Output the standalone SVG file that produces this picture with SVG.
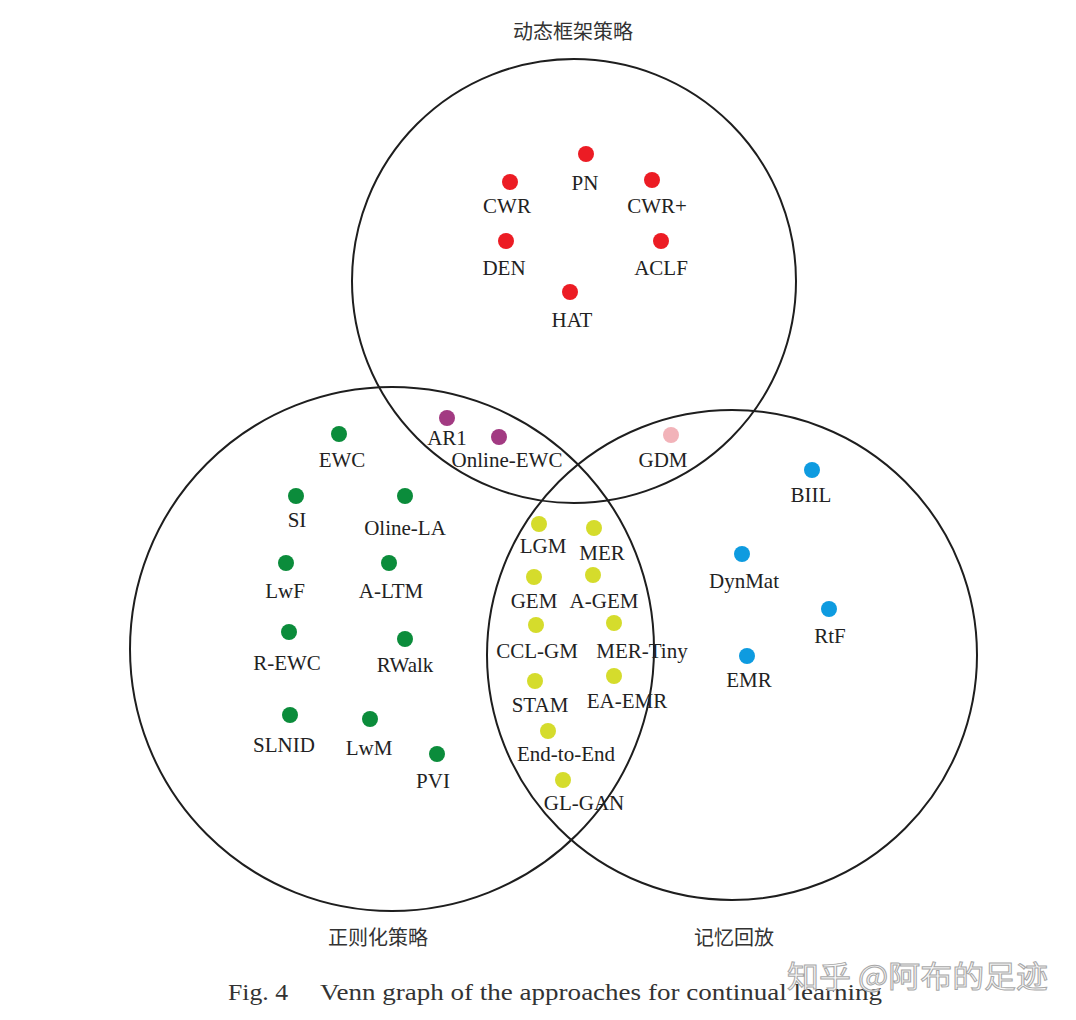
<svg xmlns="http://www.w3.org/2000/svg" width="1076" height="1020" viewBox="0 0 1076 1020">
<style>
.c{fill:none;stroke:#1e1e1e;stroke-width:2}
.t{font-family:"Liberation Serif","Times New Roman",serif;font-size:21px;fill:#222;text-anchor:middle}
.z{font-family:"Noto Sans CJK SC","Noto Sans CJK JP",sans-serif;font-size:20px;fill:#333;text-anchor:middle}
.r{fill:#ec1c24}.g{fill:#0b8c3b}.p{fill:#a23a82}.k{fill:#f2b3b9}.y{fill:#d5dc2c}.b{fill:#0e9be0}
</style>
<rect width="1076" height="1020" fill="#fff"/>
<g id="sets">
<circle id="set-dynamic" class="c" cx="574" cy="281" r="222"/>
<circle id="set-regularization" class="c" cx="392" cy="649" r="262"/>
<circle id="set-replay" class="c" cx="732" cy="655" r="245"/>
</g>
<g id="connectors"></g>
<g id="titles">
<text class="z" x="573" y="39">动态框架策略</text>
<text class="z" x="378" y="945">正则化策略</text>
<text class="z" x="734" y="945">记忆回放</text>
</g>
<g id="PN"><circle class="r" cx="586" cy="154" r="8"/><text class="t" x="585" y="190">PN</text></g>
<g id="CWR"><circle class="r" cx="510" cy="182" r="8"/><text class="t" x="507" y="213">CWR</text></g>
<g id="CWRplus"><circle class="r" cx="652" cy="180" r="8"/><text class="t" x="657" y="213">CWR+</text></g>
<g id="DEN"><circle class="r" cx="506" cy="241" r="8"/><text class="t" x="504" y="275">DEN</text></g>
<g id="ACLF"><circle class="r" cx="661" cy="241" r="8"/><text class="t" x="661" y="275">ACLF</text></g>
<g id="HAT"><circle class="r" cx="570" cy="292" r="8"/><text class="t" x="572" y="327">HAT</text></g>
<g id="AR1"><circle class="p" cx="447" cy="418" r="8"/><text class="t" x="447" y="445">AR1</text></g>
<g id="Online-EWC"><circle class="p" cx="499" cy="437" r="8"/><text class="t" x="507" y="467">Online-EWC</text></g>
<g id="GDM"><circle class="k" cx="671" cy="435" r="8"/><text class="t" x="663" y="467">GDM</text></g>
<g id="EWC"><circle class="g" cx="339" cy="434" r="8"/><text class="t" x="342" y="467">EWC</text></g>
<g id="SI"><circle class="g" cx="296" cy="496" r="8"/><text class="t" x="297" y="527">SI</text></g>
<g id="Oline-LA"><circle class="g" cx="405" cy="496" r="8"/><text class="t" x="405" y="535">Oline-LA</text></g>
<g id="LwF"><circle class="g" cx="286" cy="563" r="8"/><text class="t" x="285" y="598">LwF</text></g>
<g id="A-LTM"><circle class="g" cx="389" cy="563" r="8"/><text class="t" x="391" y="598">A-LTM</text></g>
<g id="R-EWC"><circle class="g" cx="289" cy="632" r="8"/><text class="t" x="287" y="670">R-EWC</text></g>
<g id="RWalk"><circle class="g" cx="405" cy="639" r="8"/><text class="t" x="405" y="672">RWalk</text></g>
<g id="SLNID"><circle class="g" cx="290" cy="715" r="8"/><text class="t" x="284" y="752">SLNID</text></g>
<g id="LwM"><circle class="g" cx="370" cy="719" r="8"/><text class="t" x="369" y="755">LwM</text></g>
<g id="PVI"><circle class="g" cx="437" cy="754" r="8"/><text class="t" x="433" y="788">PVI</text></g>
<g id="LGM"><circle class="y" cx="539" cy="524" r="8"/><text class="t" x="543" y="553">LGM</text></g>
<g id="MER"><circle class="y" cx="594" cy="528" r="8"/><text class="t" x="602" y="560">MER</text></g>
<g id="GEM"><circle class="y" cx="534" cy="577" r="8"/><text class="t" x="534" y="608">GEM</text></g>
<g id="A-GEM"><circle class="y" cx="593" cy="575" r="8"/><text class="t" x="604" y="608">A-GEM</text></g>
<g id="CCL-GM"><circle class="y" cx="536" cy="625" r="8"/><text class="t" x="537" y="658">CCL-GM</text></g>
<g id="MER-Tiny"><circle class="y" cx="614" cy="623" r="8"/><text class="t" x="642" y="658">MER-Tiny</text></g>
<g id="STAM"><circle class="y" cx="535" cy="681" r="8"/><text class="t" x="540" y="712">STAM</text></g>
<g id="EA-EMR"><circle class="y" cx="614" cy="676" r="8"/><text class="t" x="627" y="708">EA-EMR</text></g>
<g id="End-to-End"><circle class="y" cx="548" cy="731" r="8"/><text class="t" x="566" y="761">End-to-End</text></g>
<g id="GL-GAN"><circle class="y" cx="563" cy="780" r="8"/><text class="t" x="584" y="810">GL-GAN</text></g>
<g id="BIIL"><circle class="b" cx="812" cy="470" r="8"/><text class="t" x="811" y="502">BIIL</text></g>
<g id="DynMat"><circle class="b" cx="742" cy="554" r="8"/><text class="t" x="744" y="588">DynMat</text></g>
<g id="RtF"><circle class="b" cx="829" cy="609" r="8"/><text class="t" x="830" y="643">RtF</text></g>
<g id="EMR"><circle class="b" cx="747" cy="656" r="8"/><text class="t" x="749" y="687">EMR</text></g>
<g id="caption">
<text x="228" y="1000" style="font-family:'Liberation Serif','Times New Roman',serif;font-size:24px;fill:#333" textLength="60" lengthAdjust="spacingAndGlyphs">Fig. 4</text>
<text x="320" y="1000" style="font-family:'Liberation Serif','Times New Roman',serif;font-size:24px;fill:#333" textLength="562" lengthAdjust="spacingAndGlyphs">Venn graph of the approaches for continual learning</text>
</g>
<g id="watermark">
<text x="787" y="987" style="font-family:'Noto Sans CJK SC',sans-serif;font-size:30px;fill:#fafafa;stroke:#a8a8a8;stroke-width:1" textLength="261" lengthAdjust="spacingAndGlyphs">知乎 @阿布的足迹</text>
</g>
</svg>
